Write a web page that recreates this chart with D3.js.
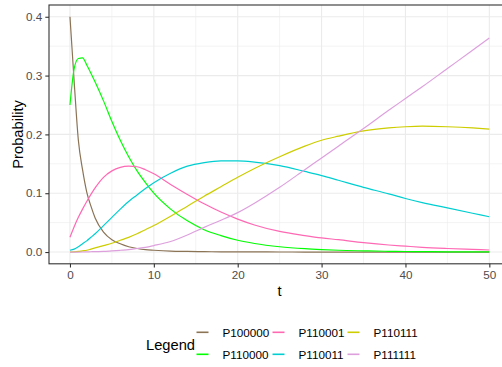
<!DOCTYPE html>
<html>
<head>
<meta charset="utf-8">
<script src="https://cdn.jsdelivr.net/npm/d3@7"></script>
<style>
  html, body { margin: 0; padding: 0; background: #ffffff; }
  svg { display: block; font-family: "Liberation Sans", Arial, Helvetica, sans-serif; }
</style>
</head>
<body>
<svg id="chart" width="502" height="367"></svg>
<script>
// Time points at which each state probability is reported
const tValues = [0, 0.5, 1, 1.5, 2, 2.5, 3, 4, 5, 6, 7, 8, 9, 10, 12, 14, 16, 18, 20, 22, 25, 28, 30, 32, 35, 38, 40, 42, 45, 48, 50];

// State probabilities over time
const P100000 = [0.400, 0.290, 0.190, 0.140, 0.102, 0.078, 0.058, 0.034, 0.021, 0.014, 0.009, 0.006, 0.004, 0.003, 0.0015, 0.001, 0.0006, 0.0004, 0.0003, 0.0002, 0.0001, 0, 0, 0, 0, 0, 0, 0, 0, 0, 0];
const P110000 = [0.250, 0.312, 0.329, 0.330, 0.318, 0.304, 0.289, 0.257, 0.222, 0.190, 0.162, 0.138, 0.118, 0.100, 0.073, 0.053, 0.038, 0.028, 0.020, 0.0145, 0.009, 0.0057, 0.0042, 0.003, 0.002, 0.0012, 0.0009, 0.0007, 0.0004, 0.0003, 0.0002];
const P110001 = [0.025, 0.043, 0.059, 0.073, 0.086, 0.098, 0.109, 0.127, 0.138, 0.144, 0.146, 0.145, 0.140, 0.133, 0.115, 0.098, 0.082, 0.068, 0.056, 0.046, 0.035, 0.028, 0.024, 0.021, 0.016, 0.012, 0.010, 0.008, 0.006, 0.0045, 0.0035];
const P110011 = [0.003, 0.005, 0.009, 0.014, 0.019, 0.025, 0.031, 0.045, 0.059, 0.073, 0.086, 0.097, 0.108, 0.118, 0.134, 0.146, 0.152, 0.155, 0.155, 0.153, 0.147, 0.137, 0.130, 0.122, 0.110, 0.099, 0.091, 0.084, 0.075, 0.066, 0.060];
const P110111 = [0, 0.0003, 0.001, 0.002, 0.003, 0.005, 0.007, 0.011, 0.015, 0.020, 0.025, 0.031, 0.038, 0.045, 0.061, 0.078, 0.095, 0.111, 0.127, 0.142, 0.162, 0.180, 0.190, 0.197, 0.206, 0.211, 0.213, 0.214, 0.213, 0.211, 0.209];
const P111111 = [0, 0, 0, 0.0001, 0.0003, 0.0005, 0.0007, 0.001, 0.002, 0.003, 0.004, 0.006, 0.008, 0.011, 0.018, 0.029, 0.042, 0.054, 0.067, 0.083, 0.110, 0.140, 0.160, 0.180, 0.210, 0.241, 0.261, 0.281, 0.312, 0.343, 0.364];

const seriesNames = ["P100000", "P110000", "P110001", "P110011", "P110111", "P111111"];
const seriesValues = [P100000, P110000, P110001, P110011, P110111, P111111];
const seriesColors = ["#8B7355", "#00FF00", "#FF69B4", "#00CED1", "#CDCD00", "#DDA0DD"];

const xTicks = [0, 10, 20, 30, 40, 50];
const xMinor = [5, 15, 25, 35, 45];
const yTicks = [0, 0.1, 0.2, 0.3, 0.4];
const yMinor = [0.05, 0.15, 0.25, 0.35];

const svg = d3.select("#chart");

const panel = { left: 49, top: 5, right: 510.3, bottom: 263.8 };

const x = d3.scaleLinear().domain([-2.5, 52.5]).range([panel.left, panel.right]);
const y = d3.scaleLinear().domain([-0.02, 0.42]).range([panel.bottom, panel.top]);

// Panel background and grid
svg.append("rect")
  .attr("x", panel.left).attr("y", panel.top)
  .attr("width", panel.right - panel.left).attr("height", panel.bottom - panel.top)
  .attr("fill", "#ffffff");

const grid = svg.append("g");
grid.selectAll("line.xminor").data(xMinor).join("line")
  .attr("x1", d => x(d)).attr("x2", d => x(d))
  .attr("y1", panel.top).attr("y2", panel.bottom)
  .attr("stroke", "#EBEBEB").attr("stroke-width", 0.6);
grid.selectAll("line.yminor").data(yMinor).join("line")
  .attr("y1", d => y(d)).attr("y2", d => y(d))
  .attr("x1", panel.left).attr("x2", panel.right)
  .attr("stroke", "#EBEBEB").attr("stroke-width", 0.6);
grid.selectAll("line.xmajor").data(xTicks).join("line")
  .attr("x1", d => x(d)).attr("x2", d => x(d))
  .attr("y1", panel.top).attr("y2", panel.bottom)
  .attr("stroke", "#EBEBEB").attr("stroke-width", 1.1);
grid.selectAll("line.ymajor").data(yTicks).join("line")
  .attr("y1", d => y(d)).attr("y2", d => y(d))
  .attr("x1", panel.left).attr("x2", panel.right)
  .attr("stroke", "#EBEBEB").attr("stroke-width", 1.1);

// Probability curves
svg.append("clipPath").attr("id", "panelClip")
  .append("rect")
  .attr("x", panel.left).attr("y", panel.top)
  .attr("width", panel.right - panel.left).attr("height", panel.bottom - panel.top);

const line = d3.line()
  .x((d, i) => x(tValues[i]))
  .y(d => y(d))
  .curve(d3.curveMonotoneX);

svg.append("g").attr("clip-path", "url(#panelClip)")
  .selectAll("path").data(seriesValues).join("path")
  .attr("d", d => line(d))
  .attr("fill", "none")
  .attr("stroke", (d, i) => seriesColors[i])
  .attr("stroke-width", 1.2);

// Panel border
svg.append("rect")
  .attr("x", panel.left).attr("y", panel.top)
  .attr("width", panel.right - panel.left).attr("height", panel.bottom - panel.top)
  .attr("fill", "none").attr("stroke", "#333333").attr("stroke-width", 1.1);

// Axes
const xAxis = d3.axisBottom(x).tickValues(xTicks).tickFormat(d3.format("d"))
  .tickSize(3.7).tickPadding(3);
const yAxis = d3.axisLeft(y).tickValues(yTicks).tickFormat(d3.format(".1f"))
  .tickSize(3.7).tickPadding(3);

const gx = svg.append("g").attr("transform", `translate(0,${panel.bottom})`).call(xAxis);
const gy = svg.append("g").attr("transform", `translate(${panel.left},0)`).call(yAxis);
[gx, gy].forEach(g => {
  g.select(".domain").remove();
  g.selectAll(".tick line").attr("stroke", "#333333").attr("stroke-width", 1.1);
  g.selectAll(".tick text").attr("fill", "#4D4D4D").attr("font-size", "11.7px")
    .attr("font-family", "'Liberation Sans', Arial, sans-serif");
});

// Axis titles
svg.append("text")
  .attr("x", (panel.left + panel.right) / 2).attr("y", 296)
  .attr("text-anchor", "middle").attr("font-size", "14.7px").attr("fill", "#000")
  .text("t");
svg.append("text")
  .attr("transform", `translate(23,${(panel.top + panel.bottom) / 2}) rotate(-90)`)
  .attr("text-anchor", "middle").attr("font-size", "14.7px").attr("fill", "#000")
  .text("Probability");

// Legend
const legend = svg.append("g");
legend.append("text")
  .attr("x", 146).attr("y", 349.5)
  .attr("font-size", "14.7px").attr("fill", "#000")
  .text("Legend");

const colX = [196.5, 272.5, 347.5];
const rowY = [332.3, 354.3];
const items = legend.selectAll("g.item").data(seriesNames).join("g")
  .attr("transform", (d, i) => `translate(${colX[Math.floor(i / 2)]},${rowY[i % 2]})`);
items.append("line")
  .attr("x1", 0).attr("x2", 12)
  .attr("y1", 0).attr("y2", 0)
  .attr("stroke", (d, i) => seriesColors[i])
  .attr("stroke-width", 1.6);
items.append("text")
  .attr("x", 26).attr("y", 4.2)
  .attr("font-size", "11.7px").attr("fill", "#000")
  .text(d => d);
</script>
</body>
</html>
